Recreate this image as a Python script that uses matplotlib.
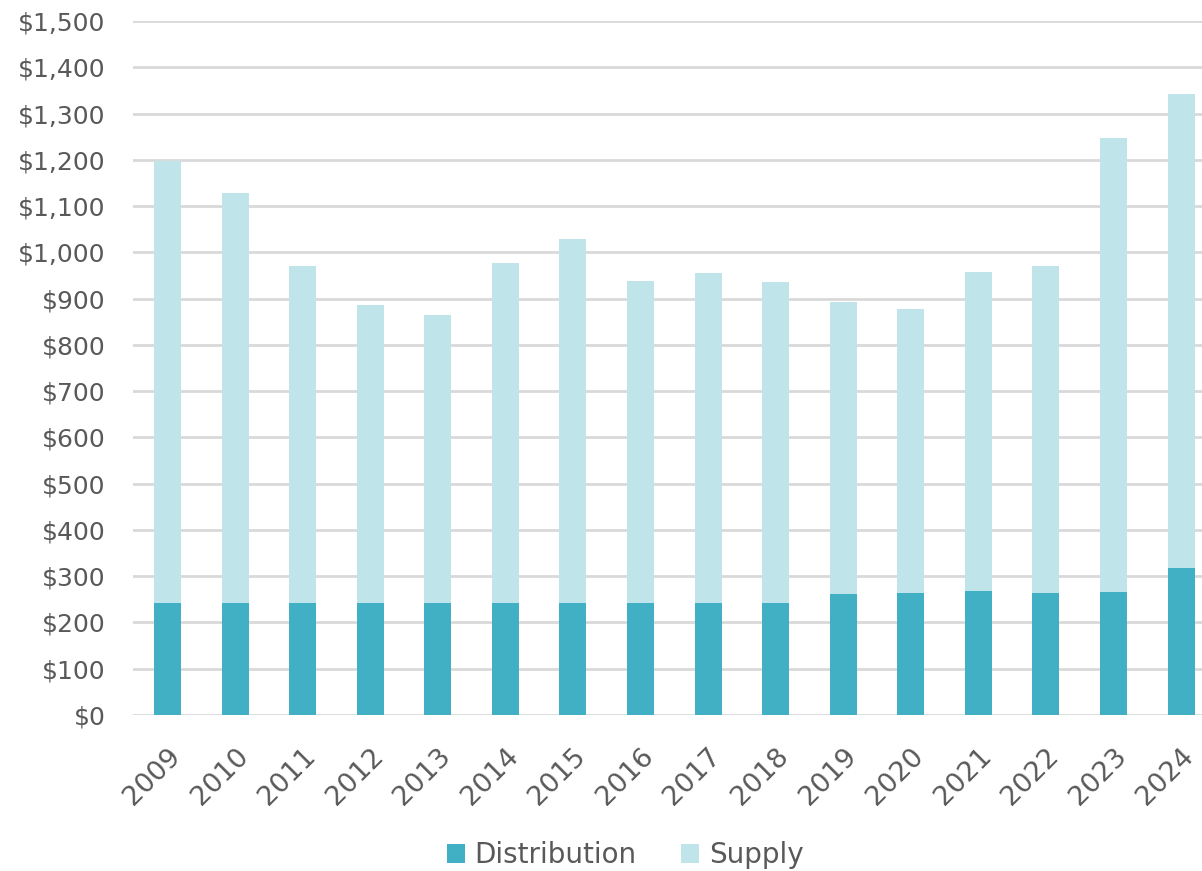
import matplotlib
matplotlib.use("Agg")
import matplotlib.pyplot as plt
from matplotlib.ticker import FuncFormatter, MultipleLocator

years = ["2009", "2010", "2011", "2012", "2013", "2014", "2015", "2016",
         "2017", "2018", "2019", "2020", "2021", "2022", "2023", "2024"]
distribution = [242, 242, 242, 242, 242, 242, 242, 242, 242, 242, 262, 264, 268, 264, 266, 318]
totals = [1197, 1128, 970, 886, 864, 977, 1029, 938, 955, 936, 893, 877, 957, 970, 1247, 1342]
supply = [t - d for t, d in zip(totals, distribution)]

dist_color = "#41B0C4"
supply_color = "#BFE4EA"
text_color = "#595959"
grid_color = "#D9D9D9"

plt.rcParams['font.family'] = ['DejaVu Sans']

fig = plt.figure(figsize=(12.02, 8.71), dpi=100)
ax = fig.add_axes([0.1107, 0.1791, 0.8893, 0.7968])

x = list(range(len(years)))
ax.bar(x, distribution, width=0.4, color=dist_color, label="Distribution", zorder=3)
ax.bar(x, supply, width=0.4, bottom=distribution, color=supply_color, label="Supply", zorder=3)

ax.set_ylim(0, 1500)
ax.set_xlim(-0.51, 15.31)
ax.yaxis.set_major_locator(MultipleLocator(100))
ax.yaxis.set_major_formatter(FuncFormatter(lambda v, p: f"${int(v):,}"))
ax.grid(axis="y", color=grid_color, linewidth=2, zorder=0)
ax.set_axisbelow(True)
for s in ax.spines.values():
    s.set_visible(False)

ax.set_xticks(x)
ax.set_xticklabels(years, rotation=45, ha="right", rotation_mode="anchor")
ax.tick_params(axis="y", length=0, labelsize=18, colors=text_color, pad=20)
ax.tick_params(axis="x", length=0, labelsize=19.5, colors=text_color, pad=20)
for lbl in ax.get_xticklabels():
    lbl.set_transform(lbl.get_transform() + matplotlib.transforms.ScaledTranslation(0.0, 0, fig.dpi_scale_trans))

leg = fig.legend(loc="center", bbox_to_anchor=(0.52, 0.018), ncol=2, frameon=False,
                 fontsize=20, handlelength=0.65, handleheight=0.65, handletextpad=0.35,
                 columnspacing=1.6, labelcolor=text_color)

fig.savefig("out.png", dpi=100)
